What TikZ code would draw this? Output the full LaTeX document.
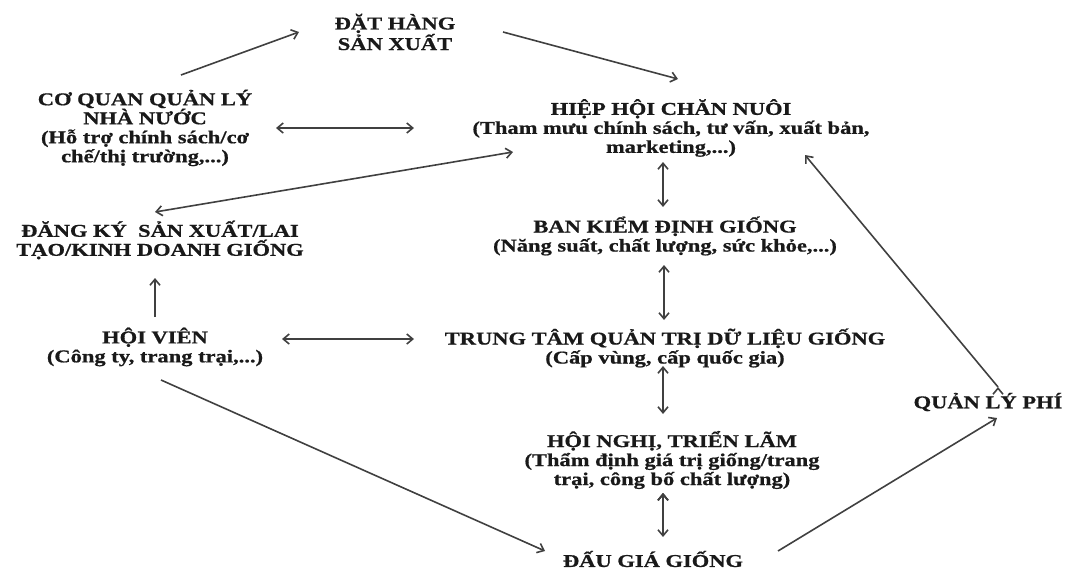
\documentclass[tikz,border=0pt]{standalone}
\usepackage{fontspec}
\setmainfont{Liberation Serif}[FakeStretch=1.25, BoldFeatures={FakeBold=0.8}]
\usetikzlibrary{arrows.meta, positioning}

\begin{document}
\begin{tikzpicture}[x=1pt, y=-1pt, >={Straight Barb[length=6pt,width=10pt]}, node distance=110pt, on grid,
  box/.style={align=center, inner sep=1pt, font=\bfseries\fontsize{18}{19}\selectfont, text=black!90},
  link/.style={draw=black!75, line width=1.6pt}]

  \useasboundingbox (0,0) rectangle (1068,571);

  \node[box] (dh) at (395,32) {ĐẶT HÀNG\\SẢN XUẤT};
  \node[box] (cq) at (145,128) {CƠ QUAN QUẢN LÝ\\NHÀ NƯỚC\\(Hỗ trợ chính sách/cơ\\chế/thị trường,...)};
  \node[box] (hh) at (671,128) {HIỆP HỘI CHĂN NUÔI\\(Tham mưu chính sách, tư vấn, xuất bản,\\marketing,...)};
  \node[box] (dk) at (160,240) {ĐĂNG KÝ\ \ SẢN XUẤT/LAI\\TẠO/KINH DOANH GIỐNG};
  \node[box, below=108pt of hh, xshift=-6pt] (bkd) {BAN KIỂM ĐỊNH GIỐNG\\(Năng suất, chất lượng, sức khỏe,...)};
  \node[box] (hv) at (155,347) {HỘI VIÊN\\(Công ty, trang trại,...)};
  \node[box, below=112pt of bkd] (tt) {TRUNG TÂM QUẢN TRỊ DỮ LIỆU GIỐNG\\(Cấp vùng, cấp quốc gia)};
  \node[box, below=112pt of tt, xshift=7pt] (hn) {HỘI NGHỊ, TRIỂN LÃM\\(Thẩm định giá trị giống/trang\\trại, công bố chất lượng)};
  \node[box, below=99pt of hn, xshift=-19pt] (dg) {ĐẤU GIÁ GIỐNG};
  \node[box] (qlp) at (988,402) {QUẢN LÝ PHÍ};

  % single arrows
  \path[link, ->]
  ([xshift=36pt,yshift=53pt]cq.center) edge ([xshift=-96pt]dh.center)
  ([xshift=108pt]dh.center) edge ([xshift=7pt,yshift=49pt]hh.center)
  ([yshift=30pt]hv.center) edge ([xshift=-5pt,yshift=-38pt]dk.center)
  ([xshift=6pt,yshift=-33pt]hv.center) edge ([xshift=-108pt,yshift=8pt]dg.center)
  ([xshift=125pt,yshift=8pt]dg.center) edge ([xshift=9pt,yshift=-16pt]qlp.center)
  ([xshift=10pt,yshift=15pt]qlp.center) edge ([xshift=134pt,yshift=-27pt]hh.center)
  ;

  % double arrows
  \path[link, <->]
  ([xshift=131pt]cq.center) edge ([xshift=-257pt]hh.center)
  ([xshift=-5pt,yshift=28pt]dk.center) edge ([xshift=-158pt,yshift=-24pt]hh.center)
  ([xshift=127pt,yshift=8pt]hv.center) edge ([xshift=-251pt,yshift=9pt]tt.center)
  ([xshift=-8pt,yshift=-34pt]hh.center) edge ([xshift=-2pt,yshift=29pt]bkd.center)
  ([xshift=-1pt,yshift=-29pt]bkd.center) edge ([xshift=-1pt,yshift=28pt]tt.center)
  ([xshift=-2pt,yshift=-18pt]tt.center) edge ([xshift=-9pt,yshift=46pt]hn.center)
  ([xshift=-9pt,yshift=-33pt]hn.center) edge ([xshift=10pt,yshift=22pt]dg.center)
  ;

\end{tikzpicture}
\end{document}
